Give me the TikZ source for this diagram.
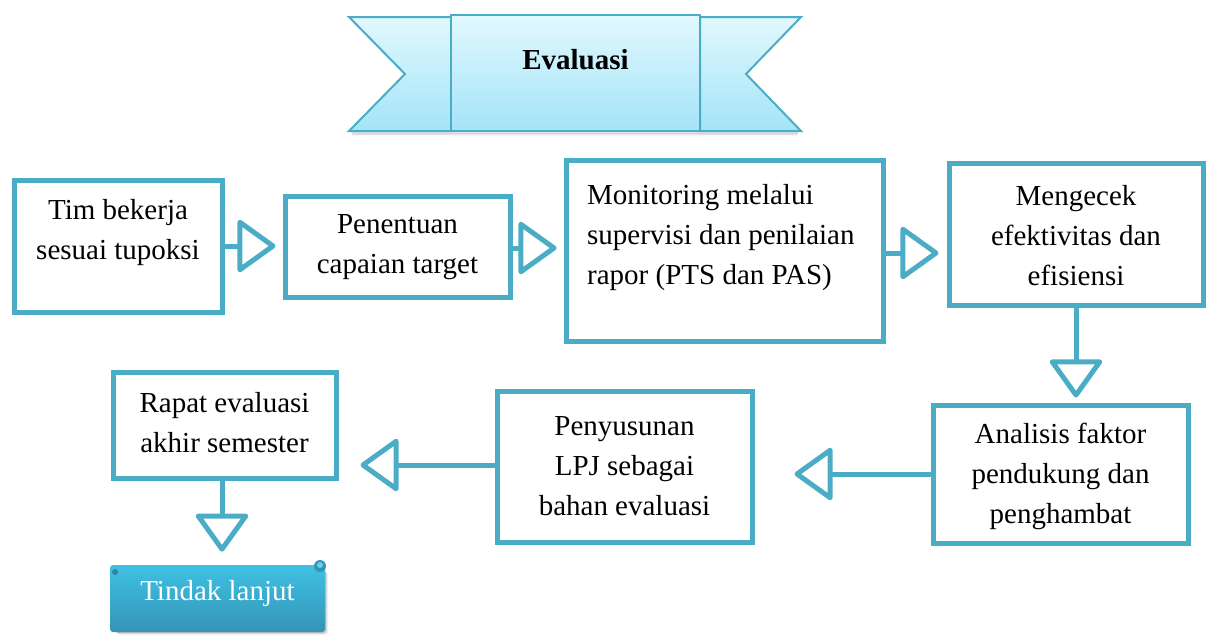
\documentclass[tikz,border=0pt]{standalone}
\usepackage{fontspec}
\setmainfont{Liberation Serif}
\usetikzlibrary{arrows.meta,calc}
\definecolor{accent}{HTML}{4BACC6}
\definecolor{ribtop}{HTML}{E2F8FE}
\definecolor{ribbot}{HTML}{A3E4F7}
\definecolor{tltop}{HTML}{3FC1E3}
\definecolor{tlbot}{HTML}{3594B6}
\begin{document}
\begin{tikzpicture}[x=1pt,y=-1pt,
  box/.style={draw=accent, line width=5pt, fill=white, inner sep=0pt},
  txt/.style={font=\fontsize{29}{40}\selectfont, align=center, inner sep=0pt},
  flow/.style={draw=accent, line width=5pt,
    -{Triangle[open, length=40pt, width=56pt, line join=round]}},
]
\useasboundingbox (0,0) rectangle (1208,638);

% title ribbon
\foreach \o/\op in {1/0.10,2/0.07,3/0.04}
  \fill[black, opacity=\op] (352,131+\o) rectangle (798,133+\o);
\shade[top color=ribtop, bottom color=ribbot, draw=accent, line width=2pt, line join=miter]
  (349,17) -- (451,17) -- (451,131) -- (349,131) -- (405,74) -- cycle;
\shade[top color=ribtop, bottom color=ribbot, draw=accent, line width=2pt, line join=miter]
  (700,17) -- (801,17) -- (746,74) -- (801,131) -- (700,131) -- cycle;
\shade[top color=ribtop, bottom color=ribbot, draw=accent, line width=2pt]
  (451,15) rectangle (700,131);
\node[txt, font=\fontsize{29}{40}\selectfont\bfseries] (title) at (575.5,60) {Evaluasi};

% process boxes
\node[box, minimum width=208pt, minimum height=132pt] (b1) at (118,246) {};
\node[box, minimum width=225pt, minimum height=101pt] (b2) at (397.5,246.5) {};
\node[box, minimum width=317pt, minimum height=181pt] (b3) at (724.5,250.5) {};
\node[box, minimum width=254pt, minimum height=142pt] (b4) at (1076,234) {};
\node[box, minimum width=255pt, minimum height=138pt] (b5) at (1060.5,474) {};
\node[box, minimum width=255pt, minimum height=151pt] (b6) at (624.5,466.5) {};
\node[box, minimum width=223pt, minimum height=106pt] (b7) at (224.5,425) {};

\node[txt] (t1) at (118,233) {Tim bekerja\\sesuai tupoksi};
\node[txt] (t2) at (397.5,247) {Penentuan\\capaian target};
\node[txt, align=left, anchor=west] (t3) at (587,238) {Monitoring melalui\\supervisi dan penilaian\\rapor (PTS dan PAS)};
\node[txt] (t4) at (1076,236) {Mengecek\\efektivitas dan\\efisiensi};
\node[txt] (t5) at (1060.5,476) {Analisis faktor\\pendukung dan\\penghambat};
\node[txt] (t6) at (624.5,466) {Penyusunan\\LPJ sebagai\\bahan evaluasi};
\node[txt] (t7) at (224.5,423) {Rapat evaluasi\\akhir semester};

% final scroll
\foreach \o/\op in {1/0.14,2/0.09,3/0.05}
  \fill[black, opacity=\op, rounded corners=3pt] (114+\o,569+\o) rectangle (325+\o,632+\o);
\shade[top color=tltop, bottom color=tlbot, rounded corners=3pt] (110,565) rectangle (325,632);
\fill[tlbot] (320,566) circle (6pt);
\fill[tltop!80!white] (320,565) circle (3pt);
\fill[tlbot!90!black] (115,572) circle (3pt);
\node[txt, text=white] (tl) at (217.5,594) {Tindak lanjut};

% connectors
\draw[flow, shorten >=7pt] (b1.east) -- (b1.east -| b2.west);
\draw[flow, shorten >=7pt] ($(b2.east)+(0,1.5)$) -- ($(b2.east -| b3.west)+(0,1.5)$);
\draw[flow, shorten >=8pt] ($(b3.east)+(0,2.5)$) -- ($(b3.east -| b4.west)+(0,2.5)$);
\draw[flow, shorten >=5pt] (b4.south) -- (b4.south |- b5.north);
\draw[flow, shorten >=40pt] (b5.west) -- (b5.west -| b6.east);
\draw[flow, shorten >=22pt] ($(b6.west)+(0,-1.5)$) -- ($(b6.west -| b7.east)+(0,-1.5)$);
\draw[flow] ($(b7.south)+(-2.5,0)$) -- ($(b7.south |- tl.north)+(-2.5,-29)$);
\end{tikzpicture}
\end{document}
